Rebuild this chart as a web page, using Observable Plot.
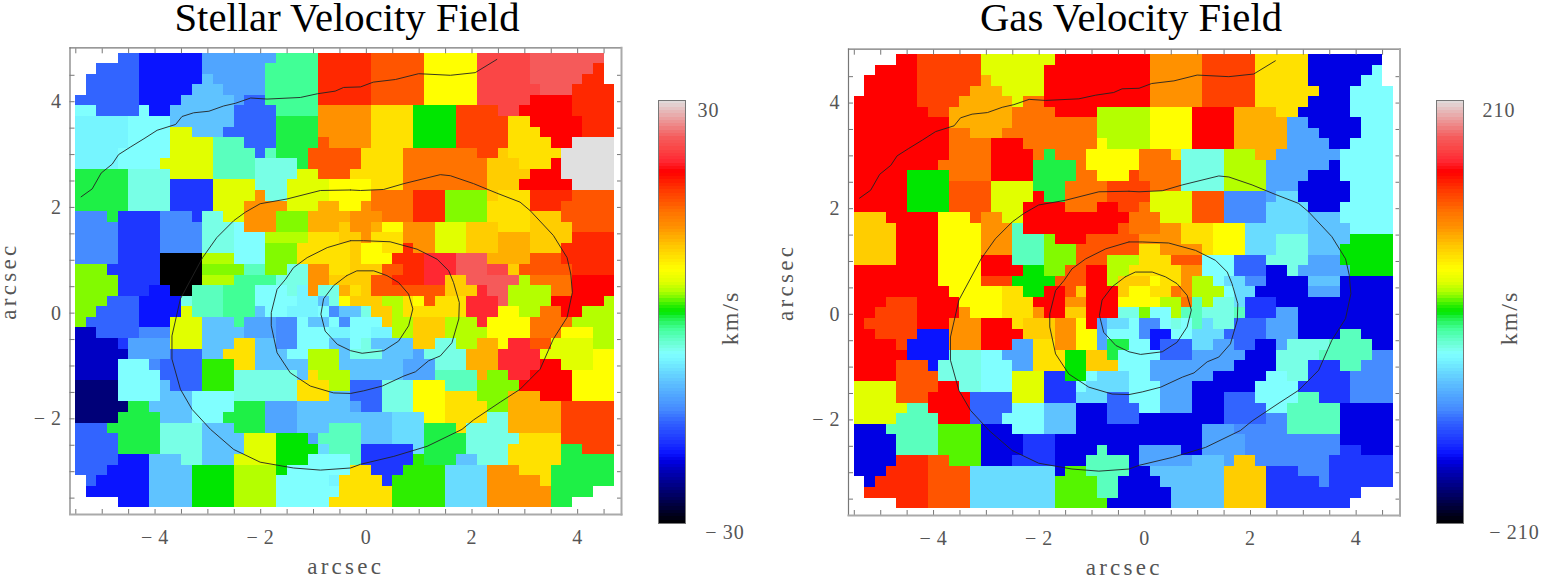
<!DOCTYPE html>
<html><head><meta charset="utf-8">
<script src="https://cdn.jsdelivr.net/npm/d3@7"></script>
<script src="https://cdn.jsdelivr.net/npm/@observablehq/plot@0.6"></script>
<style>
html,body{margin:0;padding:0;background:#fff}
#page{position:relative;width:1541px;height:575px;overflow:hidden}
#page svg{position:absolute;top:0;background:transparent;overflow:visible}
.title{position:absolute;top:0;font:40.7px/.9 "Liberation Serif",serif;color:#000;white-space:nowrap;transform:translateX(-50%)}
</style></head><body><div id="page"></div>
<script>
// Velocity levels: key, position on the colour bar (0 = bottom, 1 = top), colour.
const levelKeys = "KndDbBmMsScCqtTgGhHjlLyYoOpPrReEfFiIw";
const levelPositions = [0,.08,.13,.148,.165,.195,.24,.27,.30,.335,.36,.385,.40,.415,.44,.46,.485,.50,.515,.525,.535,.55,.57,.60,.63,.65,.675,.70,.735,.76,.78,.80,.83,.855,.885,.91,1];
const levelColours = ["#000000","#000078","#0000c3","#0000e4","#0a14ff","#1e37ff","#3264ff","#468cff","#50a5ff","#5fc3ff","#69dcff","#76f5ff","#80ffff","#78ffe6","#5affbe","#41ff96","#1ef046","#00e600","#2dee00","#55f500","#82fa00","#b4ff00","#e1ff00","#ffff00","#ffe100","#ffcd00","#ffaf00","#ff9100","#ff7300","#ff5500","#ff4100","#ff2800","#ff0000","#ff2832","#fa4646","#f55a5a","#e0e0e0"];

// Each row is a list of runs: level key + column where the run ends ("." = no data).
const stellarRows = [
".4 m6 b12 s19 g23 E28 R33 Y38 i43 I50 .51",
".2 m6 b12 s18 g23 E28 R33 Y38 i43 I49 E50 .51",
".1 m6 b12 S13 s18 g23 E28 R33 Y38 i43 I48 E50 .51",
".1 m6 b11 S14 s18 g23 E28 R33 Y38 i44 I47 E51",
"m6 b10 S15 s16 m18 g23 E28 R33 Y38 i43 f47 E51",
"q2 m6 q7 b9 S15 m19 g23 P28 o32 h36 e40 i42 f47 E51",
"C5 q9 S15 m19 G23 P28 o32 h36 e41 o43 f48 E51",
"C5 q9 y11 S14 m19 G23 P28 o32 h36 e41 o44 f48 E51",
"C5 q9 y13 T16 m19 G23 R24 P28 o32 h36 e41 o45 f47 w51",
"C4 q9 y13 T17 m18 T19 G22 R27 o31 r38 e40 O41 o46 w51",
"C4 q8 y13 T17 t21 G22 R27 o31 r39 O42 o45 f46 w51",
"G5 t9 y13 T17 t21 y23 R26 o31 r39 O43 f46 w51",
"G5 t9 B13 y17 t20 y24 Y28 o31 r39 O42 f47 w51",
"G5 t9 B13 y17 P18 t20 y24 Y28 r32 E35 l39 O40 o43 E47 R51",
"G5 t9 B13 y16 P20 y23 p25 Y27 P28 r32 E35 l39 o43 E46 R51",
"M3 G4 B8 M11 B12 t14 y16 P19 l22 p26 P29 r32 E35 l39 o43 O46 R51",
"M4 B8 M12 t15 q16 P19 l22 p25 O26 P28 p29 Y31 P34 y37 O40 o43 O47 R51",
"M4 B8 M12 t15 q18 L19 L22 o25 O27 P28 o31 P34 y37 O40 p43 O47 E51",
"M4 B8 M12 t15 q18 l21 o26 O27 Y29 o31 E32 P34 y37 O40 p43 O46 E51",
"M4 B8 K12 L15 q18 l21 o26 O27 Y30 E33 F36 I39 p43 R46 E51",
"l3 B8 K12 l16 T18 l20 t22 P24 o26 O29 R31 E33 F36 I39 i41 O42 R47 E51",
"l4 B8 K12 L15 g19 t22 P24 O28 R30 E33 F35 O37 I42 L43 r47 f51",
"l4 B7 b9 K11 T14 g17 q20 t21 C22 P23 t25 p26 o27 O28 R35 O38 F39 I41 L45 r47 f51",
"l3 m6 b10 t11 T14 g17 q21 C23 S24 t25 Y26 O29 L31 o32 Y33 R34 o37 F40 I41 L45 f50 L51",
"l2 m6 b10 y11 T14 g17 S18 q20 C23 q24 M25 S27 t28 O30 L31 o37 F40 Y42 L44 r46 f48 L51",
"l1 m6 b9 y12 S15 g16 s19 M21 q22 S24 q25 M26 q29 O30 L32 O35 L38 F39 Y43 r47 L51",
"d2 m6 M9 y12 S16 s19 M21 q24 C26 q28 C30 L32 O35 L39 Y43 r46 Y49 L51",
"d4 B5 s9 y12 S15 o17 S19 M21 q24 S26 q27 t28 S32 O34 t36 L38 p40 Y41 F43 R45 y49 L51",
"d5 s9 m12 S14 o17 S20 q22 L25 S26 t29 S32 s33 t37 p40 F44 y49 Y51",
"d4 q7 M8 m12 H15 o17 S22 L25 S31 s34 t37 p40 F44 f46 y49 Y51",
"d4 q8 m12 H15 t21 S22 o23 L26 S31 s34 T38 p39 l41 F43 f47 Y51",
"n4 q8 S9 m12 H15 t21 o24 L26 m29 t32 Y35 T38 l42 f47 Y51",
"n4 q8 S11 q15 t21 o24 S26 m29 t32 Y35 o38 l41 p44 f47 Y51",
"n5 G7 S11 q15 G18 s21 S26 s27 m29 t32 Y35 o39 l41 p46 e51",
"n4 G8 S11 q14 G18 s21 S30 c33 Y35 o39 t41 p46 e51",
"m3 G8 t12 S15 G18 s21 S24 T27 S30 c33 G36 o37 t41 p46 e51",
"m4 G8 t12 S16 y19 h22 s23 T27 S30 c33 G37 t42 o46 e51",
"m4 G8 t12 S16 y19 h23 c24 T27 B32 c33 G37 t41 o46 G48 e51",
"m4 b7 S10 t12 S15 y19 h22 q26 T27 B32 H33 G36 S38 t41 o46 G51",
"m3 b7 S11 h15 L19 h20 q26 o28 B31 H35 c39 P42 o45 G51",
".1 m2 b7 S11 h15 L19 q24 C25 o29 B30 H35 c39 P44 o45 G51",
".1 b7 S11 h15 L19 q25 o30 H35 c39 P45 G49 .51",
".4 b7 S11 h15 L19 q24 o30 H35 c39 P45 G47 .51"
];
const gasRows = [
".4 f6 e12 y19 f28 P33 e38 o43 D50 .51",
".2 f6 e12 y18 f28 P33 e38 o43 D49 q50 .51",
".1 f6 e12 p13 y18 f28 P33 e38 o43 D48 q50 .51",
".1 f6 e11 p14 y18 f28 P33 e38 o44 D47 q51",
"f6 e10 p15 y16 r18 f28 P33 e38 o43 D47 q51",
"f7 e9 p15 r19 f23 L28 Y32 f36 p40 o42 D47 q51",
"f9 p15 r23 L28 Y32 f36 p41 s43 D48 q51",
"f9 r11 p14 r23 L28 Y32 f36 p41 s44 D48 q51",
"f9 r13 f16 r23 Y24 L28 Y32 f36 p41 s45 D47 q51",
"f9 r13 f17 r18 G19 r22 Y27 r30 o31 t35 L38 p40 s46 q51",
"f8 r13 f17 G21 r22 Y27 r31 t35 L39 s45 D46 q51",
"f5 h9 r13 f17 G21 r23 Y26 e27 r31 t35 L39 s43 D46 q51",
"f5 h9 R13 y17 G20 r24 e28 r31 t35 L39 s42 D47 q51",
"f5 h9 R13 y17 f18 G20 r24 e28 y32 R35 M39 s40 c42 D47 q51",
"f5 h9 R13 y16 f20 r23 f25 e27 r28 y32 R35 M39 c43 D46 q51",
"O3 f8 Y11 R12 P14 y16 f26 r29 y32 R35 M39 c43 S46 q51",
"O4 f8 Y12 P15 T16 f25 R26 r29 P31 o34 Y37 c43 S47 q51",
"O4 f8 Y12 P15 T18 l19 f22 R27 P31 o34 Y37 c40 t43 S47 h51",
"O4 f8 Y12 P15 T18 l21 R27 o29 P33 o34 Y37 c40 t43 S46 h51",
"O4 f8 Y12 f15 T18 l21 R24 L27 o30 R33 q36 m39 t43 s46 h51",
"f8 Y12 f16 h18 l20 R22 f24 L26 o31 P33 q36 m39 D41 t42 s47 h51",
"f8 Y12 e15 h19 R22 f24 L25 O28 Y29 o31 P32 L34 q35 c37 M39 D43 S46 D51",
"f9 Y14 o16 h18 f20 R21 O22 f25 O26 Y28 o30 r31 P32 L35 q36 c38 D43 s46 D51",
"f3 e6 f10 Y14 o17 f20 P22 f25 Y29 L31 r32 T33 L34 t36 c37 B40 D51",
"f2 e6 f10 P11 Y14 o17 P18 f20 O22 f25 t27 l28 q30 L31 T33 t36 T37 B40 s42 D51",
"f1 e6 f9 P12 f15 o16 O19 P21 Y22 f23 s24 c26 q27 M29 q30 t31 q32 T33 c34 t36 m39 s42 D51",
"f2 e6 b9 P12 f16 O19 P21 Y23 s24 q27 M28 b30 q32 c35 m39 s42 D46 T48 D51",
"f4 e5 b9 P12 f15 s17 o19 P21 Y23 s24 G26 q28 b29 m32 c34 s36 m38 D40 s41 t45 T49 D51",
"f5 b9 t12 q14 s17 o20 h22 O24 G25 q29 m32 s37 D40 t44 T49 M51",
"f4 R7 b8 t12 q15 s17 o20 h22 O25 q28 s36 D40 t43 B46 T48 M51",
"f4 R8 t12 q15 y18 B20 h22 q23 c26 q28 s34 D39 q41 t43 B47 M51",
"y4 R8 f10 t12 q15 y18 B21 q22 c26 q29 s32 D38 q42 B47 M51",
"y4 R7 f11 m15 y18 B21 c24 m26 q29 s32 D35 m38 q42 T44 B47 M51",
"y5 T7 f11 m15 q18 S21 D24 m27 q29 s32 D35 m39 q41 T46 D51",
"y4 T8 f11 m14 q18 S21 D24 m27 D35 m39 M41 T46 D51",
"D3 T8 j12 D15 q18 S21 D33 s36 M41 T46 D51",
"D4 T8 j12 D16 B19 D33 s37 M46 D51",
"D4 T8 j12 D16 B19 D23 T24 D27 s31 D33 s37 M46 B48 D51",
"D4 E7 R9 j12 D15 B19 D22 T26 D27 s32 S35 s36 O38 M45 B51",
"D3 E7 R11 c19 D20 j22 T26 D28 S35 O39 B42 M45 B51",
".1 D2 E7 R11 c19 j23 T25 D29 S35 O39 B44 M45 B51",
".1 E7 R11 c19 j23 T25 D30 S35 O39 B48 .51",
".4 E7 R11 c19 j24 D30 S35 O39 B47 .51"
];

// Isophote contours, arcsec.
const contourOuterX = [-5.40,-5.19,-5.02,-4.81,-4.69,-4.47,-4.21,-3.96,-3.61,-3.49,-3.27,-2.98,-2.70,-2.48,-2.19,-1.88,-1.25,-0.93,-0.59,-0.43,-0.11,0.13,0.55,0.99,1.59,2.06,2.47];
const contourOuterY = [2.20,2.35,2.65,2.82,3.00,3.14,3.30,3.46,3.57,3.72,3.79,3.82,3.92,3.97,4.07,4.05,4.08,4.15,4.20,4.27,4.28,4.37,4.42,4.53,4.50,4.55,4.80];
const contourLargeX = [-0.30,-0.87,-1.50,-2.01,-2.29,-2.51,-2.83,-3.10,-3.52,-3.68,-3.68,-3.52,-3.30,-2.95,-2.51,-2.01,-1.38,-0.87,-0.30,-0.11,0.52,1.15,1.81,2.03,2.54,2.91,3.29,3.54,3.80,3.90,3.87,3.80,3.54,3.10,2.91,2.47,2.03,1.59,1.40,0.71,0.33,-0.11,-0.30];
const contourLargeY = [2.33,2.32,2.16,2.07,1.91,1.75,1.43,1.05,0.27,-0.43,-0.87,-1.44,-1.82,-2.20,-2.58,-2.82,-2.93,-2.97,-2.93,-2.86,-2.71,-2.52,-2.20,-2.02,-1.68,-1.44,-1.06,-0.49,-0.08,0.39,0.74,1.05,1.47,1.94,2.10,2.27,2.45,2.60,2.62,2.45,2.34,2.32,2.33];
const contourMiddleX = [-0.30,-0.74,-1.12,-1.38,-1.53,-1.69,-1.80,-1.80,-1.69,-1.44,-1.06,-0.62,-0.30,-0.05,0.30,0.71,0.93,1.18,1.40,1.62,1.75,1.76,1.65,1.56,1.34,0.96,0.45,-0.05,-0.30];
const contourMiddleY = [1.37,1.24,1.05,0.86,0.64,0.45,0.01,-0.24,-0.75,-1.13,-1.38,-1.51,-1.52,-1.47,-1.38,-1.19,-1.11,-0.90,-0.81,-0.56,-0.11,0.20,0.58,0.80,1.02,1.21,1.35,1.37,1.37];
const contourInnerX = [-0.37,-0.62,-0.81,-0.86,-0.78,-0.55,-0.30,-0.08,0.33,0.61,0.80,0.88,0.80,0.61,0.39,0.14,-0.18,-0.37];
const contourInnerY = [0.71,0.52,0.27,-0.02,-0.34,-0.59,-0.71,-0.76,-0.71,-0.53,-0.24,0.08,0.36,0.58,0.71,0.80,0.80,0.71];
const contours = [[contourOuterX,contourOuterY],[contourLargeX,contourLargeY],[contourMiddleX,contourMiddleY],[contourInnerX,contourInnerY]];

const xTickLabels = [-4, -2, 0, 2, 4];
const yTickLabels = [-2, 0, 2, 4];
const gridLeft = -5.5, gridTop = 4.92, cellSize = 0.2;
const inkColour = "#555";
const axisColour = "#777";
const labelFont = "Liberation Serif";

const page = document.getElementById("page");
const signed = d => d < 0 ? "\u2212\u2009" + Math.abs(d) : String(d);

function runsOf(rows, vmax) {
  const out = [];
  rows.forEach((row, r) => {
    let start = 0;
    for (const token of row.split(/\s+/)) {
      const key = token[0], end = +token.slice(1);
      if (key !== ".") {
        out.push({
          x1: gridLeft + start * cellSize, x2: gridLeft + end * cellSize,
          y1: gridTop - r * cellSize, y2: gridTop - (r + 1) * cellSize,
          velocity: vmax * (2 * levelPositions[levelKeys.indexOf(key)] - 1)
        });
      }
      start = end;
    }
  });
  return out;
}
const colourScale = vmax => ({type: "linear", domain: levelPositions.map(f => vmax * (2 * f - 1)), range: levelColours, interpolate: "rgb"});

function spaceText(svg) {
  d3.select(svg).selectAll("text").each(function() {
    const t = this.textContent;
    if (t === "arcsec") this.style.letterSpacing = "3.3px";
    else if (t === "km/s") this.style.letterSpacing = "2px";
    else this.style.letterSpacing = "1px";
  });
}

function panel({rows, vmax, left, marginLeft, marginRight, marginTop, marginBottom, title, titleX, yLabelDx}) {
  const ticksX = d3.range(-5.5, 4.75, 0.5);
  const ticksY = d3.range(-3.5, 5.0, 0.5);
  const tickStyle = {stroke: axisColour, strokeWidth: 1, text: null, label: null, tickSize: -5};
  const labelStyle = {tickSize: 0, fontSize: 20, fontFamily: labelFont, fill: inkColour, stroke: null, tickFormat: signed, label: null};
  const svg = Plot.plot({
    width: 650, height: 575, marginLeft, marginRight, marginTop, marginBottom,
    x: {domain: [-5.61, 4.83], axis: null},
    y: {domain: [-3.81, 5.02], axis: null},
    color: colourScale(vmax),
    marks: [
      Plot.rect(runsOf(rows, vmax), {x1: "x1", x2: "x2", y1: "y1", y2: "y2", fill: "velocity", shapeRendering: "crispEdges"}),
      ...contours.map(([xs, ys]) => Plot.line(xs.map((x, i) => ({x, y: ys[i]})), {x: "x", y: "y", stroke: "#222", strokeWidth: 0.9, curve: "linear"})),
      Plot.axisX(ticksX, {anchor: "bottom", ...tickStyle}),
      Plot.axisX(ticksX, {anchor: "top", ...tickStyle}),
      Plot.axisY(ticksY, {anchor: "left", ...tickStyle}),
      Plot.axisY(ticksY, {anchor: "right", ...tickStyle}),
      Plot.axisX(xTickLabels, {anchor: "bottom", tickPadding: 15, ...labelStyle}),
      Plot.axisY(yTickLabels, {anchor: "left", tickPadding: 8, ...labelStyle}),
      Plot.frame({anchor: "left", stroke: axisColour, strokeWidth: 1.2}),
      Plot.frame({anchor: "top", stroke: axisColour, strokeWidth: 1.2}),
      Plot.frame({anchor: "bottom", stroke: "#aaa", strokeWidth: 2}),
      Plot.frame({anchor: "right", stroke: "#aaa", strokeWidth: 2}),
      Plot.text(["arcsec"], {frameAnchor: "bottom", dy: 52, lineAnchor: "middle", fontSize: 23, fontFamily: labelFont, fill: inkColour}),
      Plot.text(["arcsec"], {frameAnchor: "left", dx: yLabelDx, textAnchor: "middle", lineAnchor: "middle", rotate: -90, fontSize: 23, fontFamily: labelFont, fill: inkColour})
    ]
  });
  spaceText(svg);
  svg.style.left = left + "px";
  page.appendChild(svg);
  const t = document.createElement("div");
  t.className = "title"; t.textContent = title; t.style.left = titleX + "px";
  page.appendChild(t);
}

function colourBar({vmax, left, topDx, bottomDx, unitDx}) {
  const barLevels = d3.range(0, 128);
  const svg = Plot.plot({
    width: 120, height: 575, marginLeft: 8, marginRight: 85, marginTop: 100, marginBottom: 52,
    x: {domain: [0, 1], axis: null},
    y: {domain: [-vmax, vmax], axis: null},
    color: colourScale(vmax),
    marks: [
      Plot.rect(barLevels, {x1: 0, x2: 1, y1: i => -vmax + 2 * vmax * i / 128, y2: i => -vmax + 2 * vmax * (i + 1) / 128, fill: i => -vmax + 2 * vmax * (i + .5) / 128, shapeRendering: "crispEdges"}),
      Plot.frame({stroke: "#777", strokeWidth: 1}),
      Plot.text([vmax], {x: 1, y: vmax, text: signed, dx: topDx, dy: 10, fontSize: 20, fontFamily: labelFont, fill: inkColour}),
      Plot.text([-vmax], {x: 1, y: -vmax, text: signed, dx: bottomDx, dy: 9, fontSize: 20, fontFamily: labelFont, fill: inkColour}),
      Plot.text(["km/s"], {frameAnchor: "right", dx: unitDx, dy: 6, textAnchor: "middle", lineAnchor: "middle", rotate: -90, fontSize: 24, fontFamily: labelFont, fill: inkColour})
    ]
  });
  spaceText(svg);
  svg.style.left = left + "px";
  page.appendChild(svg);
}

panel({rows: stellarRows, vmax: 30, left: 0, marginLeft: 69.5, marginRight: 29, marginTop: 47.3, marginBottom: 61, title: "Stellar Velocity Field", titleX: 347, yLabelDx: -61.5});
panel({rows: gasRows, vmax: 210, left: 770, marginLeft: 78, marginRight: 20.5, marginTop: 48.7, marginBottom: 60, title: "Gas Velocity Field", titleX: 1131, yLabelDx: -63});
colourBar({vmax: 30, left: 650, topDx: 23, bottomDx: 39.5, unitDx: 45});
colourBar({vmax: 210, left: 1428, topDx: 35.5, bottomDx: 51, unitDx: 46});
</script></body></html>
